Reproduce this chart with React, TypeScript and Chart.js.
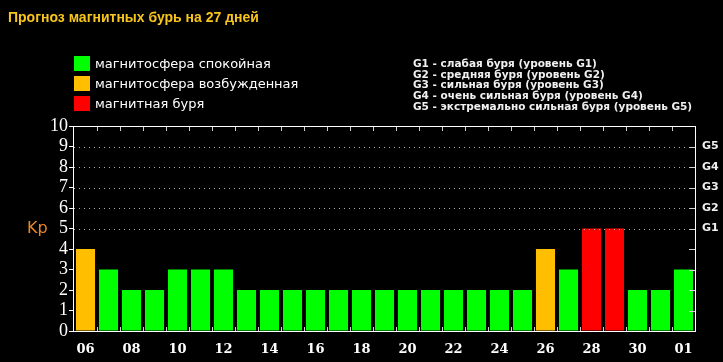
import React, { useEffect, useRef } from 'react';
import { Chart, registerables } from 'chart.js';

Chart.register(...registerables);

const TITLE = 'Прогноз магнитных бурь на 27 дней';
const days = ['06','07','08','09','10','11','12','13','14','15','16','17','18','19','20','21','22','23','24','25','26','27','28','29','30','31','01'];
const kpValues = [4,3,2,2,3,3,3,2,2,2,2,2,2,2,2,2,2,2,2,2,4,3,5,5,2,2,3];
const legendLabels = ['магнитосфера спокойная', 'магнитосфера возбужденная', 'магнитная буря'];
const legendColors = ['#00ff00', '#ffbf00', '#ff0000'];
const gLegend = [
  'G1 - слабая буря (уровень G1)',
  'G2 - средняя буря (уровень G2)',
  'G3 - сильная буря (уровень G3)',
  'G4 - очень сильная буря (уровень G4)',
  'G5 - экстремально сильная буря (уровень G5)',
];
const gLevels = ['G1', 'G2', 'G3', 'G4', 'G5'];
const gStartKp = 5;

const colorFor = (v: number) => (v >= 5 ? legendColors[2] : v >= 4 ? legendColors[1] : legendColors[0]);

const overlay = {
  id: 'overlay',
  afterDraw(chart: any) {
    const { ctx, chartArea: ca, scales } = chart;
    const y = scales.y;
    const x = scales.x;
    ctx.save();
    // dotted grid lines for storm levels
    ctx.strokeStyle = '#b0b0b0';
    ctx.lineWidth = 1;
    ctx.setLineDash([1, 4]);
    for (let v = gStartKp; v < gStartKp + gLevels.length; v++) {
      const py = Math.round(y.getPixelForValue(v)) + 0.5;
      ctx.beginPath();
      ctx.moveTo(ca.left, py);
      ctx.lineTo(ca.right, py);
      ctx.stroke();
    }
    ctx.setLineDash([]);
    // right inner ticks
    ctx.strokeStyle = '#d0d0d0';
    for (let v = 1; v < 10; v++) {
      const py = Math.round(y.getPixelForValue(v)) + 0.5;
      ctx.beginPath();
      ctx.moveTo(ca.right - 6, py);
      ctx.lineTo(ca.right, py);
      ctx.stroke();
    }
    // top and bottom category ticks
    for (let i = 0; i < days.length - 1; i++) {
      const px = Math.round((x.getPixelForValue(i) + x.getPixelForValue(i + 1)) / 2) + 0.5;
      ctx.beginPath();
      ctx.moveTo(px, ca.top);
      ctx.lineTo(px, ca.top + 5);
      ctx.moveTo(px, ca.bottom);
      ctx.lineTo(px, ca.bottom - 4);
      ctx.stroke();
    }
    // frame
    ctx.strokeStyle = '#ffffff';
    ctx.strokeRect(Math.round(ca.left) - 0.5, Math.round(ca.top) + 0.5, Math.round(ca.right - ca.left) + 1, Math.round(ca.bottom - ca.top));

    // title
    ctx.textBaseline = 'alphabetic';
    ctx.textAlign = 'left';
    ctx.fillStyle = '#f7c51c';
    ctx.font = 'bold 14px "Liberation Sans", Arial, sans-serif';
    ctx.fillText(TITLE, 8, 22);

    // left legend
    ctx.font = '13px "DejaVu Sans", Verdana, sans-serif';
    legendLabels.forEach((lbl, i) => {
      ctx.fillStyle = legendColors[i];
      ctx.fillRect(74, 56 + i * 20, 16, 15);
      ctx.fillStyle = '#ffffff';
      ctx.fillText(lbl, 95, 68 + i * 20);
    });

    // right legend
    ctx.font = 'bold 10.5px "DejaVu Sans", Tahoma, sans-serif';
    ctx.fillStyle = '#f0f0f0';
    gLegend.forEach((lbl, i) => {
      ctx.fillText(lbl, 413, 67 + i * 10.7);
    });

    // Kp label
    ctx.font = '16px "DejaVu Sans", Verdana, sans-serif';
    ctx.fillStyle = '#e8862b';
    ctx.fillText('Kp', 27, 233);
    ctx.restore();
  },
};

export default function App() {
  const ref = useRef<HTMLCanvasElement | null>(null);
  useEffect(() => {
    if (!ref.current) return;
    const chart = new Chart(ref.current, {
      type: 'bar',
      data: {
        labels: days,
        datasets: [
          {
            data: kpValues,
            backgroundColor: kpValues.map(colorFor),
            borderWidth: 0,
            barPercentage: 0.83,
            categoryPercentage: 1,
          },
        ],
      },
      options: {
        responsive: false,
        animation: false,
        layout: { padding: { top: 126, left: 0, right: 0, bottom: 0 } },
        plugins: { legend: { display: false }, tooltip: { enabled: false }, title: { display: false } },
        scales: {
          x: {
            offset: true,
            grid: { display: false, drawTicks: false },
            border: { display: false },
            ticks: {
              autoSkip: false,
              maxRotation: 0,
              color: '#ffffff',
              padding: 11,
              font: { family: '"DejaVu Serif", serif', weight: 'bold', size: 13 },
              callback: (_v: any, i: number) => (i % 2 === 0 ? days[i] : ''),
            },
            afterFit: (s: any) => { s.height = 31; },
          },
          y: {
            min: 0,
            max: 10,
            grid: { drawOnChartArea: false, drawTicks: true, tickLength: 5, color: '#ffffff' },
            border: { display: false },
            ticks: {
              stepSize: 1,
              autoSkip: false,
              color: '#ffffff',
              padding: 1,
              font: { family: '"Liberation Serif", serif', size: 18 },
            },
            afterFit: (s: any) => { s.width = 74; },
          },
          y2: {
            position: 'right',
            min: 0,
            max: 10,
            grid: { display: false, drawTicks: false },
            border: { display: false },
            ticks: {
              stepSize: 1,
              autoSkip: false,
              color: '#f0f0f0',
              padding: 7,
              font: { family: '"DejaVu Sans", sans-serif', weight: 'bold', size: 11 },
              callback: (v: any) => (v >= gStartKp && v < gStartKp + gLevels.length ? gLevels[v - gStartKp] : ''),
            },
            afterFit: (s: any) => { s.width = 28; },
          },
        },
      },
      plugins: [overlay],
    } as any);
    return () => chart.destroy();
  }, []);
  return (
    <div style={{ position: 'fixed', left: 0, top: 0, width: 723, height: 362, background: '#000' }}>
      <canvas ref={ref} width={723} height={362} style={{ display: 'block' }} />
    </div>
  );
}
